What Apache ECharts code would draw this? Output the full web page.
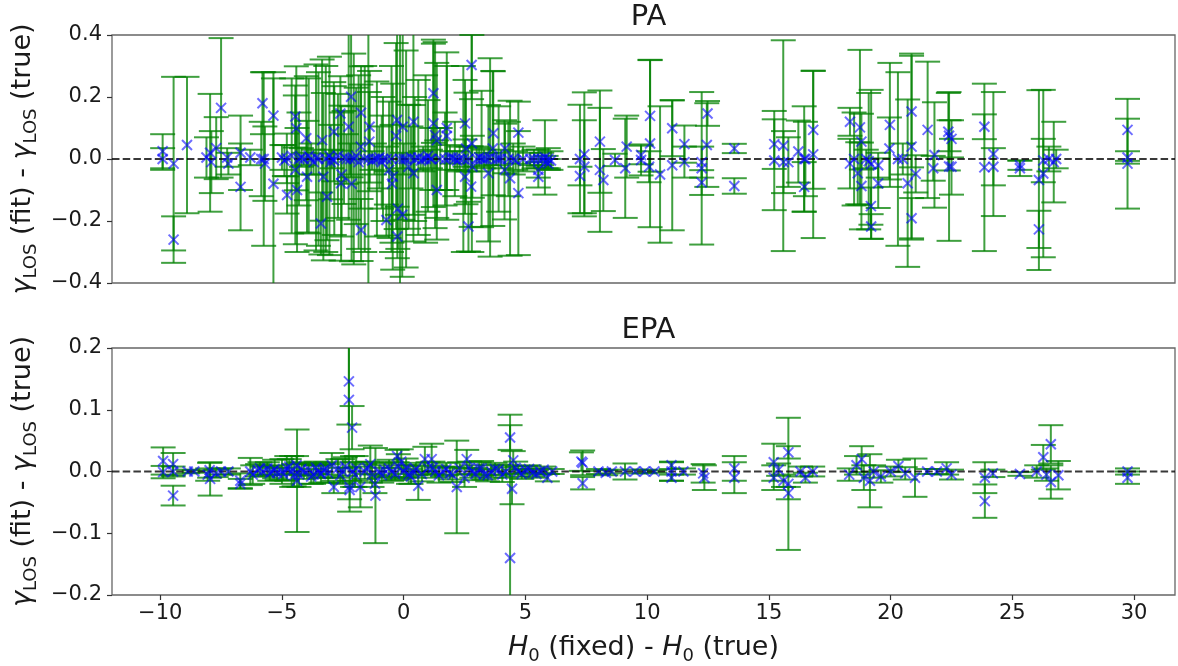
<!DOCTYPE html>
<html>
<head>
<meta charset="utf-8">
<script src="https://cdn.jsdelivr.net/npm/echarts@6/dist/echarts.min.js"></script>
<style>
html,body{margin:0;padding:0;background:#fff;}
#chart{width:1178px;height:666px;}
</style>
</head>
<body>
<div id="chart"></div>
<script>
// ---------------- DATA ----------------
const panelTitles = ['PA', 'EPA'];
const xTickValues = [-10, -5, 0, 5, 10, 15, 20, 25, 30];
const paYTicks = [-0.4, -0.2, 0.0, 0.2, 0.4];
const epaYTicks = [-0.2, -0.1, 0.0, 0.1, 0.2];

// PA panel: x = H0(fixed)-H0(true), y = gamma(fit)-gamma(true), err = 1-sigma
const paX = [
 -9.9,-9.9,-9.45,-9.45,-8.9,-8.1,-7.95,-7.9,-7.7,-7.5,-7.25,-7.2,-6.7,-6.7,-6.3,
 -5.85,-5.8,-5.75,-5.7,-5.35,-5.35,-5.0,-4.8,-4.79,-4.6,-4.45,-4.41,-4.45,-4.38,-4.2,
 -4.0,-3.97,-3.8,-3.6,-3.4,-3.35,-3.3,-3.2,-3.15,-3.05,-2.87,-2.85,-2.7,-2.6,-2.57,
 -2.55,-2.45,-2.26,-2.16,-2.14,-2.05,-1.95,-1.75,-1.75,-1.76,-1.6,-1.45,-1.4,-1.41,-1.2,
 -1.0,-0.85,-0.71,-0.6,-0.5,-0.48,-0.45,-0.31,-0.27,-0.26,-0.24,-0.15,-0.06,-0.04,0.2,
 0.4,0.4,0.45,0.6,0.8,1.0,1.15,1.22,1.22,1.29,1.36,1.36,1.5,1.77,1.77,
 2.0,2.3,2.52,2.52,2.56,2.66,2.79,2.8,2.77,2.82,3.0,3.3,3.48,3.68,3.66,
 3.8,4.16,4.14,4.37,4.5,4.71,4.71,5.53,5.53,5.53,5.67,5.8,5.94,5.94,7.24,
 7.24,7.42,7.42,8.06,8.06,8.2,8.68,9.16,9.1,9.75,9.75,10.12,10.08,10.12,10.53,
 11.03,11.03,11.53,11.53,12.24,12.24,12.24,12.48,12.45,13.58,13.58,15.22,15.22,15.59,15.6,
 15.8,16.21,16.45,16.45,16.5,16.82,16.82,18.33,18.33,18.5,18.65,18.74,18.8,18.8,19.0,
 19.1,19.19,19.2,19.2,19.49,19.49,19.97,19.95,20.3,20.5,20.7,20.86,20.86,20.86,21.03,
 21.52,21.75,21.8,22.37,22.4,22.5,22.4,22.5,23.85,23.85,24.22,24.22,25.31,25.31,26.09,
 26.09,26.27,26.27,26.5,26.7,26.8,29.73,29.73,29.73,
 -4.3,-3.9,-3.5,-3.0,-2.35,-1.85,-1.1,-0.9,0.1,0.3,0.9,1.7,2.1,2.45,3.2,
 3.55,3.9,4.3,4.9,5.2,6.05,
 -4.9,-4.1,-3.7,-2.95,-2.2,-1.3,-0.7,0.0,0.7,1.1,1.9,2.2,2.65,3.1,3.4,
 4.0,4.6,5.35,5.85
];
const paY = [
 0.025,0.0,-0.015,-0.26,0.045,0.005,0.02,-0.01,0.035,0.165,0.005,-0.015,0.02,-0.09,0.005,
 0.0,0.18,0.0,-0.015,0.14,-0.08,0.005,0.002,-0.116,0.01,0.137,0.099,-0.035,-0.1,0.005,
 0.067,-0.057,0.0,0.005,-0.208,0.061,-0.057,0.0,-0.122,0.01,0.088,-0.005,0.01,0.147,-0.078,
 -0.05,0.005,0.104,0.201,-0.08,0.0,0.01,0.149,-0.229,0.04,0.0,0.0,0.104,0.056,0.0,
 0.005,0.0,-0.197,-0.035,0.0,-0.08,-0.057,0.074,0.126,-0.25,-0.16,0.0,-0.18,0.104,-0.025,
 0.12,-0.046,0.0,0.005,0.0,0.01,0.0,0.212,0.115,0.077,0.06,-0.1,0.0,0.1,0.074,
 0.005,0.0,0.115,-0.057,0.034,-0.218,0.303,0.05,-0.089,-0.025,0.0,0.0,-0.046,0.083,0.034,
 0.0,0.034,-0.035,-0.062,0.0,0.085,-0.11,0.0,-0.035,-0.057,0.0,0.005,0.0,-0.015,0.0,
 -0.055,0.015,-0.025,0.056,-0.035,-0.068,-0.003,0.04,-0.03,0.013,-0.003,0.139,-0.025,0.05,-0.05,
 0.099,-0.02,0.048,-0.01,-0.01,-0.03,-0.076,0.147,0.045,0.034,-0.087,0.048,-0.005,0.043,-0.01,
 -0.01,0.024,-0.09,0.0,0.0,0.094,0.015,0.12,-0.015,0.0,-0.046,0.102,0.056,-0.087,0.0,
 -0.007,-0.152,-0.218,-0.017,-0.078,-0.02,0.11,0.034,0.0,0.0,-0.078,0.153,-0.191,0.04,-0.048,
 0.094,-0.03,0.013,0.088,0.075,0.065,-0.024,-0.025,0.104,-0.027,0.016,-0.025,-0.03,-0.02,-0.068,
 -0.227,-0.047,-0.005,0.0,-0.01,0.0,0.094,0.005,-0.015,
 0.0,0.01,0.0,-0.01,0.0,-0.01,0.0,-0.01,0.0,0.005,0.0,0.0,0.0,0.0,0.0,
 0.005,0.0,0.0,0.0,0.0,-0.005,
 -0.005,0.0,-0.01,0.0,0.0,-0.005,0.0,0.0,-0.005,0.0,0.005,-0.005,0.0,0.005,0.0,
 0.0,-0.005,0.0,-0.01
];
const paErr = [
 0.055,0.035,0.28,0.075,0.22,0.065,0.19,0.1,0.1,0.225,0.03,0.035,0.12,0.14,0.025,
 0.12,0.1,0.28,0.12,0.14,0.34,0.04,0.08,0.06,0.25,0.1,0.2,0.24,0.2,0.03,
 0.2,0.18,0.05,0.3,0.1,0.26,0.27,0.3,0.14,0.32,0.16,0.24,0.2,0.12,0.25,
 0.2,0.15,0.3,0.26,0.25,0.34,0.22,0.15,0.1,0.2,0.3,0.45,0.18,0.16,0.05,
 0.1,0.2,0.05,0.22,0.3,0.19,0.3,0.3,0.28,0.07,0.13,0.42,0.2,0.3,0.2,
 0.3,0.22,0.2,0.25,0.04,0.18,0.1,0.16,0.27,0.3,0.25,0.16,0.1,0.2,0.27,
 0.02,0.04,0.14,0.12,0.18,0.08,0.11,0.35,0.13,0.1,0.04,0.03,0.22,0.2,0.25,
 0.02,0.08,0.16,0.25,0.05,0.1,0.2,0.03,0.025,0.035,0.02,0.12,0.035,0.015,0.175,
 0.03,0.2,0.15,0.165,0.2,0.1,0.02,0.1,0.16,0.03,0.05,0.18,0.05,0.27,0.22,
 0.09,0.21,0.06,0.05,0.05,0.246,0.04,0.04,0.135,0.015,0.025,0.08,0.16,0.34,0.1,
 0.08,0.1,0.08,0.17,0.12,0.19,0.27,0.045,0.08,0.15,0.1,0.25,0.09,0.14,0.03,
 0.22,0.06,0.04,0.24,0.08,0.04,0.2,0.1,0.28,0.05,0.27,0.18,0.065,0.3,0.06,
 0.22,0.04,0.17,0.125,0.05,0.06,0.24,0.09,0.04,0.27,0.2,0.06,0.025,0.015,0.29,
 0.06,0.27,0.07,0.04,0.13,0.03,0.1,0.02,0.145,
 0.15,0.25,0.28,0.12,0.08,0.28,0.25,0.15,0.35,0.1,0.27,0.15,0.12,0.3,0.22,
 0.32,0.17,0.12,0.04,0.02,0.03,
 0.05,0.02,0.04,0.03,0.05,0.03,0.04,0.05,0.03,0.03,0.04,0.03,0.04,0.03,0.02,
 0.03,0.03,0.03,0.02
];

// EPA panel
const epaX = [
 -9.88,-9.88,-9.47,-9.47,-9.47,-8.87,-8.6,-8.05,-7.97,-7.95,-7.7,-7.5,-7.2,-6.71,-6.71,
 -6.3,-6.2,-6.0,-5.8,-5.6,-5.4,-5.2,-5.0,-4.8,-4.6,-4.38,-4.4,-4.3,-4.1,-3.9,
 -3.7,-3.5,-3.3,-3.1,-2.95,-2.87,-2.7,-2.5,-2.25,-2.25,-2.12,-2.22,-2.22,-2.1,-1.95,
 -1.78,-1.6,-1.37,-1.3,-1.16,-1.18,-1.0,-0.8,-0.5,-0.27,-0.22,-0.1,0.0,0.2,0.4,
 0.6,0.87,1.0,1.15,1.3,1.6,1.9,2.18,2.3,2.59,2.5,2.8,3.1,3.3,3.6,
 3.9,4.2,4.37,4.37,4.5,4.45,4.7,5.0,5.3,5.6,5.9,6.1,7.3,7.35,7.35,
 8.0,8.3,8.55,9.09,9.5,9.9,10.3,11.0,11.0,11.0,11.49,12.3,12.35,13.58,13.58,
 15.2,15.2,15.4,15.6,15.8,15.8,15.8,16.3,16.5,16.8,18.3,18.6,18.81,18.9,19.15,
 19.3,19.6,20.0,20.32,20.6,21.0,21.5,21.9,22.3,22.5,23.87,23.87,24.2,25.31,26.0,
 26.27,26.4,26.58,26.58,26.89,29.73,29.73,
 -5.9,-5.5,-5.3,-4.95,-4.7,-4.5,-4.2,-3.8,-3.6,-3.4,-3.2,-2.6,-2.4,-2.0,-1.5,
 -0.9,-0.6,-0.35,0.1,0.3,0.5,0.75,1.2,1.45,1.75,2.0,2.7,2.95,3.2,3.45,
 3.75,4.05,4.6,4.85,5.15,5.45,5.75
];
const epaY = [
 0.017,-0.001,0.012,-0.039,0.0,0.0,0.0,-0.005,0.002,-0.012,-0.003,0.0,0.0,-0.015,-0.02,
 0.0,-0.005,0.002,0.0,0.005,0.0,-0.002,0.0,0.005,0.0,-0.015,0.01,-0.005,0.0,0.003,
 -0.005,0.0,0.002,-0.003,0.01,-0.025,0.005,0.0,0.146,0.116,0.071,-0.025,-0.03,0.0,0.005,
 -0.025,0.0,0.012,-0.005,-0.039,-0.02,0.0,0.003,0.0,0.025,0.008,0.016,0.0,-0.005,0.0,
 -0.023,0.02,0.005,0.02,0.0,0.0,-0.003,-0.025,0.005,0.02,-0.01,0.0,0.005,-0.005,0.0,
 0.003,0.0,-0.14,0.055,0.018,-0.028,0.0,0.003,-0.002,0.0,-0.01,0.0,0.016,0.014,-0.019,
 0.0,-0.002,0.0,0.0,0.0,0.0,0.0,0.01,0.0,-0.01,0.0,-0.003,-0.01,0.005,-0.01,
 0.015,-0.01,0.003,-0.015,0.031,-0.035,-0.02,0.0,-0.01,0.0,-0.005,0.01,0.02,-0.01,-0.015,
 0.0,-0.008,0.0,0.009,-0.003,-0.01,0.0,0.0,0.005,-0.005,-0.01,-0.048,-0.003,-0.004,0.0,
 0.023,-0.005,0.044,-0.017,-0.006,0.0,-0.01,
 0.005,-0.003,0.004,-0.004,0.008,-0.006,0.004,-0.008,0.006,-0.004,0.005,-0.006,0.008,-0.005,0.006,
 -0.006,0.005,-0.004,0.006,-0.008,0.004,-0.004,0.006,-0.006,0.004,-0.005,0.006,-0.004,0.005,-0.006,
 0.004,-0.005,0.006,-0.004,0.004,-0.004,0.003
];
const epaErr = [
 0.022,0.01,0.018,0.016,0.008,0.003,0.002,0.01,0.012,0.027,0.006,0.005,0.005,0.012,0.008,
 0.022,0.015,0.01,0.008,0.01,0.006,0.012,0.02,0.02,0.025,0.083,0.015,0.02,0.012,0.01,
 0.015,0.01,0.012,0.015,0.02,0.01,0.015,0.02,0.07,0.11,0.035,0.04,0.015,0.025,0.02,
 0.033,0.012,0.03,0.02,0.077,0.015,0.01,0.01,0.015,0.01,0.02,0.02,0.01,0.015,0.01,
 0.023,0.02,0.01,0.025,0.01,0.008,0.01,0.075,0.01,0.015,0.015,0.01,0.01,0.008,0.01,
 0.008,0.01,0.232,0.02,0.015,0.025,0.008,0.006,0.006,0.005,0.006,0.004,0.015,0.02,0.01,
 0.004,0.004,0.003,0.013,0.003,0.003,0.002,0.006,0.015,0.005,0.005,0.015,0.02,0.02,0.025,
 0.03,0.02,0.01,0.01,0.01,0.01,0.107,0.008,0.008,0.008,0.01,0.015,0.021,0.02,0.043,
 0.01,0.01,0.008,0.01,0.01,0.031,0.004,0.004,0.01,0.008,0.025,0.027,0.006,0.003,0.01,
 0.02,0.01,0.031,0.027,0.023,0.005,0.01,
 0.01,0.012,0.015,0.01,0.012,0.018,0.01,0.012,0.01,0.014,0.01,0.012,0.015,0.02,0.01,
 0.012,0.014,0.01,0.015,0.012,0.01,0.012,0.01,0.012,0.01,0.012,0.01,0.01,0.012,0.01,
 0.01,0.012,0.01,0.008,0.006,0.006,0.005
];

// ---------------- CHART ----------------
const FONT = 'DejaVu Sans';
const TXT = '#1a1a1a';
const X_MIN = -11.98, X_MAX = 31.68;

function zip(xs, ys, es) { return xs.map((x, i) => [x, ys[i], es[i]]); }
const paData = zip(paX, paY, paErr);
const epaData = zip(epaX, epaY, epaErr);

function fmtY(v) {
  const s = Math.abs(v).toFixed(1);
  return (v < -1e-9 ? '\u2212' : '') + s;
}
function fmtX(v) { return (v < 0 ? '\u2212' : '') + Math.abs(v); }

const CAP = 12.5;
function renderErr(params, api) {
  const x = api.value(0), y = api.value(1), e = api.value(2);
  const pTop = api.coord([x, y + e]);
  const pBot = api.coord([x, y - e]);
  const cs = params.coordSys;
  const yMinPx = cs.y, yMaxPx = cs.y + cs.height;
  const cx = pTop[0];
  const stroke = 'rgba(0,128,0,0.75)';
  const children = [];
  const y1 = Math.max(pTop[1], yMinPx), y2 = Math.min(pBot[1], yMaxPx);
  if (y2 > y1) {
    children.push({ type: 'line', shape: { x1: cx, y1: y1, x2: cx, y2: y2 },
      style: { stroke: stroke, lineWidth: 2 } });
  }
  if (pTop[1] >= yMinPx && pTop[1] <= yMaxPx) {
    children.push({ type: 'line', shape: { x1: cx - CAP, y1: pTop[1], x2: cx + CAP, y2: pTop[1] },
      style: { stroke: stroke, lineWidth: 2 } });
  }
  if (pBot[1] >= yMinPx && pBot[1] <= yMaxPx) {
    children.push({ type: 'line', shape: { x1: cx - CAP, y1: pBot[1], x2: cx + CAP, y2: pBot[1] },
      style: { stroke: stroke, lineWidth: 2 } });
  }
  return { type: 'group', children: children };
}

const LBL = 27, SUB = 18;
const yName = '{g|\u03B3}{s|LOS}{t| (fit) - }{g|\u03B3}{s|LOS}{t| (true)}';
const yRich = {
  g: { fontFamily: FONT, fontSize: LBL, fontStyle: 'italic', lineHeight: 34, color: TXT },
  s: { fontFamily: FONT, fontSize: SUB, lineHeight: 18, verticalAlign: 'bottom', color: TXT },
  t: { fontFamily: FONT, fontSize: LBL, lineHeight: 34, color: TXT }
};
const xName = '{h|H}{s|0}{t| (fixed) - }{h|H}{s|0}{t| (true)}';
const xRich = {
  h: { fontFamily: FONT, fontSize: LBL, fontStyle: 'italic', lineHeight: 34, color: TXT },
  s: { fontFamily: FONT, fontSize: SUB, lineHeight: 18, verticalAlign: 'bottom', color: TXT },
  t: { fontFamily: FONT, fontSize: LBL, lineHeight: 34, color: TXT }
};

function xAxisFor(idx, showLabels) {
  return {
    type: 'value', gridIndex: idx, min: X_MIN, max: X_MAX,
    axisLine: { show: false, onZero: false },
    splitLine: { show: false },
    axisTick: { show: showLabels, length: 5, inside: false, customValues: xTickValues,
      lineStyle: { color: '#333', width: 1.2 } },
    axisLabel: { show: showLabels, customValues: xTickValues, margin: 8, formatter: fmtX,
      fontFamily: FONT, fontSize: 21, color: TXT },
    name: showLabels ? xName : '',
    nameLocation: 'middle', nameGap: 36,
    nameTextStyle: { rich: xRich }
  };
}
function yAxisFor(idx, lo, hi, step, ticks) {
  return {
    type: 'value', gridIndex: idx, min: lo, max: hi, interval: step,
    axisLine: { show: false, onZero: false },
    splitLine: { show: false },
    axisTick: { show: true, length: 5, customValues: ticks, lineStyle: { color: '#333', width: 1.2 } },
    axisLabel: { margin: 10, formatter: fmtY, fontFamily: FONT, fontSize: 21, color: TXT,
      customValues: ticks },
    name: yName, nameLocation: 'middle', nameRotate: 90, nameGap: 72,
    nameTextStyle: { rich: yRich }
  };
}

const chart = echarts.init(document.getElementById('chart'), null, { renderer: 'canvas' });
chart.setOption({
  animation: false,
  backgroundColor: '#fff',
  title: [
    { text: panelTitles[0], left: 643.5, textAlign: 'center', top: -2,
      textStyle: { fontFamily: FONT, fontSize: 29, fontWeight: 'normal', color: TXT } },
    { text: panelTitles[1], left: 643.5, textAlign: 'center', top: 311,
      textStyle: { fontFamily: FONT, fontSize: 29, fontWeight: 'normal', color: TXT } }
  ],
  grid: [
    { left: 112, right: 3, top: 35, height: 248, show: true, borderColor: '#666', borderWidth: 1.3, backgroundColor: 'transparent' },
    { left: 112, right: 3, top: 348, height: 249, show: true, borderColor: '#666', borderWidth: 1.3, backgroundColor: 'transparent' }
  ],
  xAxis: [ xAxisFor(0, false), xAxisFor(1, true) ],
  yAxis: [ yAxisFor(0, -0.4, 0.4, 0.2, paYTicks), yAxisFor(1, -0.2, 0.2, 0.1, epaYTicks) ],
  series: [
    { type: 'custom', xAxisIndex: 0, yAxisIndex: 0, renderItem: renderErr, data: paData,
      encode: { x: 0, y: 1 }, z: 2, silent: true },
    { type: 'custom', xAxisIndex: 1, yAxisIndex: 1, renderItem: renderErr, data: epaData,
      encode: { x: 0, y: 1 }, z: 2, silent: true },
    { type: 'line', xAxisIndex: 0, yAxisIndex: 0, data: [[X_MIN, 0], [X_MAX, 0]], symbol: 'none',
      lineStyle: { color: 'rgba(0,0,0,0.78)', width: 2, type: [7.5, 3.2] }, z: 3, silent: true },
    { type: 'line', xAxisIndex: 1, yAxisIndex: 1, data: [[X_MIN, 0], [X_MAX, 0]], symbol: 'none',
      lineStyle: { color: 'rgba(0,0,0,0.78)', width: 2, type: [7.5, 3.2] }, z: 3, silent: true },
    { type: 'scatter', xAxisIndex: 0, yAxisIndex: 0, data: paData.map(d => [d[0], d[1]]),
      symbol: 'path://M0,0L10,10M10,0L0,10', symbolSize: 10,
      itemStyle: { color: 'rgba(0,0,255,0.72)', borderColor: 'rgba(0,0,255,0.72)', borderWidth: 2 },
      z: 4, silent: true },
    { type: 'scatter', xAxisIndex: 1, yAxisIndex: 1, data: epaData.map(d => [d[0], d[1]]),
      symbol: 'path://M0,0L10,10M10,0L0,10', symbolSize: 10,
      itemStyle: { color: 'rgba(0,0,255,0.72)', borderColor: 'rgba(0,0,255,0.72)', borderWidth: 2 },
      z: 4, silent: true }
  ]
});
</script>
</body>
</html>
